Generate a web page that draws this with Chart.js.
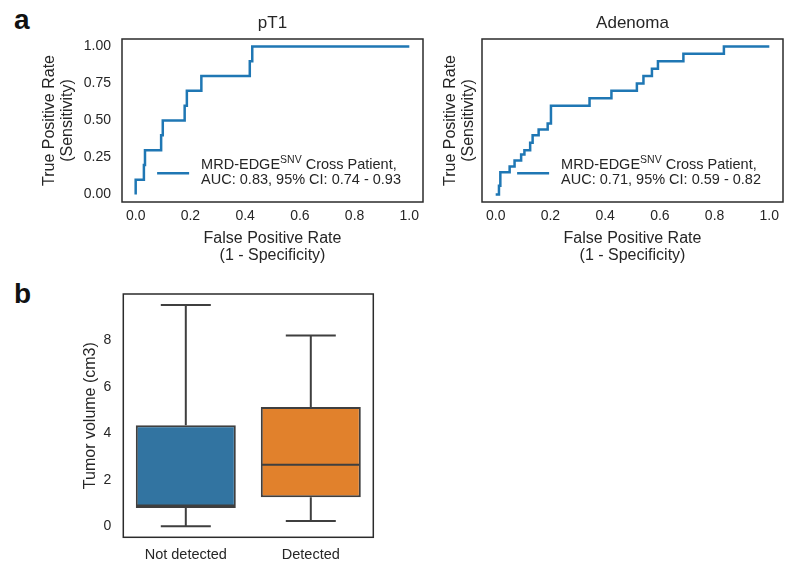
<!DOCTYPE html>
<html>
<head>
<meta charset="utf-8">
<script src="https://cdn.jsdelivr.net/npm/chart.js@4.4.1/dist/chart.umd.min.js"></script>
<style>
  html, body { margin: 0; padding: 0; background: #ffffff; }
  body { width: 800px; height: 572px; position: relative; overflow: hidden;
         font-family: 'Liberation Sans', Arial, sans-serif; }
  canvas { position: absolute; }
  .panel { position: absolute; font-weight: bold; font-size: 28px; line-height: 28px; color: #111; }
</style>
</head>
<body>
<div class="panel" style="left:14px; top:6px;">a</div>
<div class="panel" style="left:14px; top:280px;">b</div>
<canvas id="rocPT1" width="440" height="270" style="left:0px; top:0px;"></canvas>
<canvas id="rocAdenoma" width="400" height="270" style="left:400px; top:0px;"></canvas>
<canvas id="boxTumor" width="440" height="302" style="left:0px; top:270px;"></canvas>
<script>
// ---------- data ----------
const pt1Title = 'pT1';
const pt1Fpr = [0, 0, 0.030, 0.030, 0.034, 0.034, 0.093, 0.093, 0.099, 0.099, 0.179, 0.179, 0.187, 0.187, 0.240, 0.240, 0.417, 0.417, 0.426, 0.426, 1.0];
const pt1Tpr = [0, 0.1, 0.1, 0.2, 0.2, 0.3, 0.3, 0.4, 0.4, 0.5, 0.5, 0.6, 0.6, 0.7, 0.7, 0.8, 0.8, 0.9, 0.9, 1.0, 1.0];
const pt1Auc = 'AUC: 0.83, 95% CI: 0.74 - 0.93';

const adenomaTitle = 'Adenoma';
const adenomaFpr = [0, 0.012, 0.012, 0.017, 0.017, 0.051, 0.051, 0.069, 0.069, 0.093, 0.093, 0.105, 0.105, 0.126, 0.126, 0.135, 0.135, 0.157, 0.157, 0.190, 0.190, 0.202, 0.202, 0.343, 0.343, 0.423, 0.423, 0.516, 0.516, 0.540, 0.540, 0.571, 0.571, 0.593, 0.593, 0.686, 0.686, 0.834, 0.834, 1.0];
const adenomaTpr = [0, 0, 0.06, 0.06, 0.15, 0.15, 0.19, 0.19, 0.23, 0.23, 0.27, 0.27, 0.30, 0.30, 0.35, 0.35, 0.40, 0.40, 0.44, 0.44, 0.48, 0.48, 0.60, 0.60, 0.65, 0.65, 0.70, 0.70, 0.75, 0.75, 0.80, 0.80, 0.85, 0.85, 0.90, 0.90, 0.95, 0.95, 1.0, 1.0];
const adenomaAuc = 'AUC: 0.71, 95% CI: 0.59 - 0.82';

const legendName = 'MRD-EDGE';
const legendSup = 'SNV';
const legendRest = ' Cross Patient,';

const rocXTicks = [0, 0.2, 0.4, 0.6, 0.8, 1.0];
const rocYTicks = [0, 0.25, 0.5, 0.75, 1.0];
const rocXTitle = ['False Positive Rate', '(1 - Specificity)'];
const rocYTitle = ['True Positive Rate', '(Sensitivity)'];

const boxCategories = ['Not detected', 'Detected'];
const boxMin    = [0.0, 0.22];
const boxQ1     = [0.78, 1.25];
const boxMedian = [0.89, 2.64];
const boxQ3     = [4.35, 5.13];
const boxMax    = [9.53, 8.21];
const boxYTicks = [0, 2, 4, 6, 8];
const boxYTitle = 'Tumor volume (cm3)';

// ---------- styles ----------
const FONT = "'Liberation Sans', Arial, sans-serif";
const TEXT = '#262626';
const SPINE = '#2b2b2b';
const LINE_BLUE = '#1f77b4';
const BOX_COLORS = ['#3274a1', '#e1812c'];
const BOX_EDGE = '#3f3f3f';

const framePlugin = {
  id: 'frame',
  beforeDatasetsDraw(chart) {
    const {ctx, chartArea: a} = chart;
    ctx.save();
    ctx.strokeStyle = SPINE;
    ctx.lineWidth = 1.5;
    ctx.strokeRect(a.left, a.top, a.right - a.left, a.bottom - a.top);
    ctx.restore();
  }
};

const rocLegendPlugin = {
  id: 'rocLegend',
  afterDatasetsDraw(chart, args, opts) {
    if (!opts || !opts.line2) return;
    const {ctx, chartArea: a} = chart;
    ctx.save();
    const mainFont = '14.5px ' + FONT;
    const supFont = '10.5px ' + FONT;
    ctx.font = mainFont;
    const wName = ctx.measureText(opts.name).width;
    const wRest = ctx.measureText(opts.rest).width;
    const w2 = ctx.measureText(opts.line2).width;
    ctx.font = supFont;
    const wSup = ctx.measureText(opts.sup).width;
    const w1 = wName + wSup + wRest;
    const maxW = Math.max(w1, w2);
    const textLeft = a.right - 22 - maxW;
    const base2 = a.bottom - 18;
    const base1 = base2 - 14.7;
    ctx.strokeStyle = opts.color;
    ctx.lineWidth = 2.5;
    ctx.beginPath();
    ctx.moveTo(textLeft - 44, a.bottom - 28.7);
    ctx.lineTo(textLeft - 12, a.bottom - 28.7);
    ctx.stroke();
    ctx.fillStyle = TEXT;
    ctx.textBaseline = 'alphabetic';
    ctx.textAlign = 'left';
    ctx.font = mainFont;
    ctx.fillText(opts.name, textLeft, base1);
    ctx.font = supFont;
    ctx.fillText(opts.sup, textLeft + wName, base1 - 6);
    ctx.font = mainFont;
    ctx.fillText(opts.rest, textLeft + wName + wSup, base1);
    ctx.fillText(opts.line2, textLeft, base2);
    ctx.restore();
  }
};

function toPoints(xs, ys) {
  return xs.map((x, i) => ({x: x, y: ys[i]}));
}

function rocConfig(title, fpr, tpr, auc, showYTicks, yWidth, padLeft, padRight) {
  return {
    type: 'scatter',
    data: {
      datasets: [{
        data: toPoints(fpr, tpr),
        showLine: true,
        borderColor: LINE_BLUE,
        backgroundColor: LINE_BLUE,
        borderWidth: 2.5,
        pointRadius: 0,
        tension: 0,
        fill: false
      }]
    },
    options: {
      responsive: false,
      animation: false,
      devicePixelRatio: 1,
      layout: {padding: {left: padLeft, right: padRight, top: 0, bottom: 0}},
      plugins: {
        legend: {display: false},
        tooltip: {enabled: false},
        title: {
          display: true, text: title, color: TEXT, fullSize: false,
          font: {family: FONT, size: 17, weight: 'normal', lineHeight: 1.2},
          padding: {top: 12.8, bottom: 5.8}
        },
        rocLegend: {name: legendName, sup: legendSup, rest: legendRest, line2: auc, color: LINE_BLUE}
      },
      scales: {
        x: {
          type: 'linear', min: -0.05, max: 1.05,
          grid: {display: false, drawTicks: false},
          border: {display: false},
          afterBuildTicks: (s) => { s.ticks = rocXTicks.map(v => ({value: v})); },
          afterFit: (s) => { s.height = 68; },
          ticks: {
            color: TEXT, padding: 6, maxRotation: 0, autoSkip: false,
            font: {family: FONT, size: 14},
            callback: (v) => Number(v).toFixed(1)
          },
          title: {
            display: true, text: rocXTitle, color: TEXT,
            font: {family: FONT, size: 16, lineHeight: 1.1},
            padding: {top: 0, bottom: 5.5}
          }
        },
        y: {
          type: 'linear', min: -0.05, max: 1.05,
          grid: {display: false, drawTicks: false},
          border: {display: false},
          afterBuildTicks: (s) => { s.ticks = rocYTicks.map(v => ({value: v})); },
          afterFit: (s) => { s.width = yWidth; },
          ticks: {
            display: showYTicks, color: TEXT, padding: 11, autoSkip: false,
            font: {family: FONT, size: 14},
            callback: (v) => Number(v).toFixed(2)
          },
          title: {
            display: true, text: rocYTitle, color: TEXT,
            font: {family: FONT, size: 16, lineHeight: 1.1},
            padding: {top: 0, bottom: 0}
          }
        }
      }
    },
    plugins: [framePlugin, rocLegendPlugin]
  };
}

new Chart(document.getElementById('rocPT1'),
  rocConfig(pt1Title, pt1Fpr, pt1Tpr, pt1Auc, true, 81, 41, 17));
new Chart(document.getElementById('rocAdenoma'),
  rocConfig(adenomaTitle, adenomaFpr, adenomaTpr, adenomaAuc, false, 40, 42, 17));

// ---------- box plot ----------
const boxPlugin = {
  id: 'boxWhiskers',
  afterDatasetsDraw(chart) {
    const {ctx} = chart;
    const xs = chart.scales.x, ys = chart.scales.y;
    const meta = chart.getDatasetMeta(0);
    ctx.save();
    ctx.strokeStyle = BOX_EDGE;
    ctx.lineWidth = 2;
    ctx.lineCap = 'butt';
    boxCategories.forEach((c, i) => {
      const cx = xs.getPixelForValue(i);
      const bw = meta.data[i].width;
      const yMin = ys.getPixelForValue(boxMin[i]);
      const yMax = ys.getPixelForValue(boxMax[i]);
      const yQ1 = ys.getPixelForValue(boxQ1[i]);
      const yQ3 = ys.getPixelForValue(boxQ3[i]);
      const yMed = ys.getPixelForValue(boxMedian[i]);
      ctx.beginPath();
      ctx.moveTo(cx, yQ3); ctx.lineTo(cx, yMax);
      ctx.moveTo(cx, yQ1); ctx.lineTo(cx, yMin);
      ctx.moveTo(cx - bw / 4, yMax); ctx.lineTo(cx + bw / 4, yMax);
      ctx.moveTo(cx - bw / 4, yMin); ctx.lineTo(cx + bw / 4, yMin);
      ctx.moveTo(cx - bw / 2 + 1, yMed); ctx.lineTo(cx + bw / 2 - 1, yMed);
      ctx.stroke();
    });
    ctx.restore();
  }
};

new Chart(document.getElementById('boxTumor'), {
  type: 'bar',
  data: {
    labels: boxCategories,
    datasets: [{
      data: boxQ1.map((q, i) => [q, boxQ3[i]]),
      backgroundColor: BOX_COLORS,
      borderColor: BOX_EDGE,
      borderWidth: 2,
      borderSkipped: false,
      barPercentage: 0.8,
      categoryPercentage: 1.0
    }]
  },
  options: {
    responsive: false,
    animation: false,
    devicePixelRatio: 1,
    layout: {padding: {left: 82, right: 66.7, top: 24, bottom: 0}},
    plugins: {legend: {display: false}, tooltip: {enabled: false}},
    scales: {
      x: {
        grid: {display: false, drawTicks: false},
        border: {display: false},
        afterFit: (s) => { s.height = 34.7; },
        ticks: {color: TEXT, padding: 9, font: {family: FONT, size: 14.5}}
      },
      y: {
        type: 'linear', min: -0.48, max: 10.0,
        grid: {display: false, drawTicks: false},
        border: {display: false},
        afterBuildTicks: (s) => { s.ticks = boxYTicks.map(v => ({value: v})); },
        afterFit: (s) => { s.width = 41.3; },
        ticks: {color: TEXT, padding: 12, autoSkip: false, font: {family: FONT, size: 14}},
        title: {
          display: true, text: boxYTitle, color: TEXT,
          font: {family: FONT, size: 16, lineHeight: 1.1},
          padding: {top: 0, bottom: 0}
        }
      }
    }
  },
  plugins: [framePlugin, boxPlugin]
});
</script>
</body>
</html>
